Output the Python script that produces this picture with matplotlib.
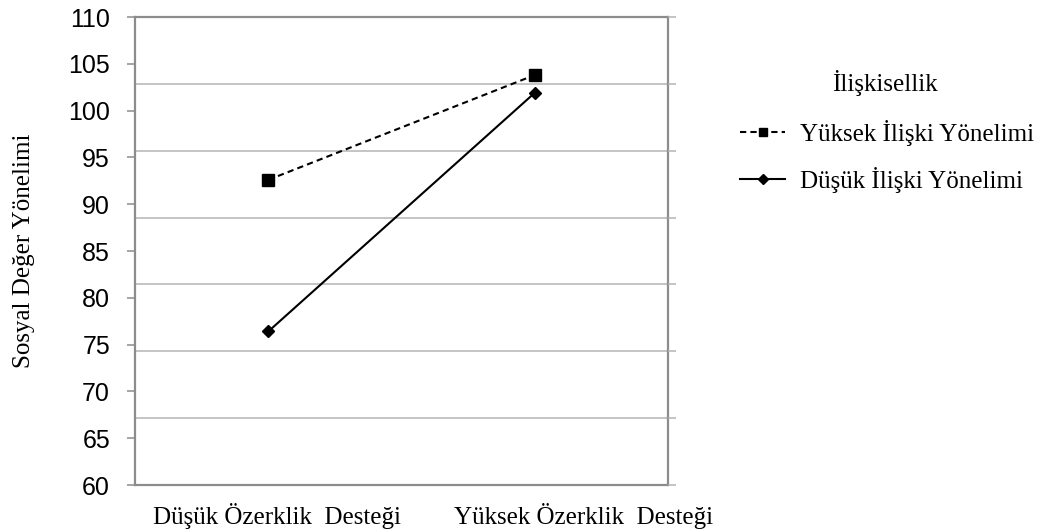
import matplotlib
matplotlib.use("Agg")
from matplotlib import pyplot as plt
from matplotlib.legend_handler import HandlerLine2D
from matplotlib.transforms import ScaledTranslation

# data
categories = ["Düşük Özerklik  Desteği", "Yüksek Özerklik  Desteği"]
series_names = ["Yüksek İlişki Yönelimi", "Düşük İlişki Yönelimi"]
yuksek_iliski = [92.6, 103.8]
dusuk_iliski = [76.4, 101.9]
y_ticks = [60, 65, 70, 75, 80, 85, 90, 95, 100, 105, 110]
grid_levels = [60 + k * 50 / 7 for k in range(8)]

serif = "Liberation Serif"
sans = "Liberation Sans"
spine_col = "#8c8c8c"
grid_col = "#b4b4b4"
fs = 18


class MarkerLeft(HandlerLine2D):
    # legend marker sits left of centre like the original
    def get_xdata(self, legend, xdescent, ydescent, width, height, fontsize):
        xdata, _ = super().get_xdata(legend, xdescent, ydescent,
                                     width, height, fontsize)
        return xdata, [xdata[0] + 0.32 * (xdata[-1] - xdata[0])]


fig = plt.figure(figsize=(10.41, 5.32), dpi=100)
ax = fig.add_axes([135 / 1041, 1 - 485 / 532, 533 / 1041, 468 / 532])

x = list(range(len(categories)))
ax.plot(x, yuksek_iliski, color="black", lw=1.5, ls=(0, (3.0, 2.0)),
        marker="s", ms=8.5, label=series_names[0], zorder=3)
ax.plot(x, dusuk_iliski, color="black", lw=1.5, ls="-",
        marker="D", ms=6, label=series_names[1], zorder=3)

ax.set_xlim(-0.5, 1.5)
ax.set_ylim(60, 110)

# right-hand ticks at the gridline levels
ax2 = ax.twinx()
ax2.set_ylim(60, 110)
ax2.set_yticks(grid_levels)
ax2.set_yticklabels([])
ax2.tick_params(axis="y", direction="out", length=6, width=1.1,
                color=grid_col)
for sp in ax2.spines.values():
    sp.set_visible(False)

ax.set_yticks(y_ticks)
ax.set_yticks(grid_levels[1:-1], minor=True)
ax.grid(which="minor", axis="y", color=grid_col, lw=1.1)
ax.set_axisbelow(True)
ax.tick_params(axis="y", which="minor", left=False, right=False)
ax.tick_params(axis="y", which="major", direction="out", length=6,
               width=1.1, color=spine_col, pad=12, labelsize=fs)
for lab in ax.get_yticklabels():
    lab.set_fontfamily(sans)

ax.set_xticks(x)
ax.set_xticklabels(categories, fontsize=fs, fontfamily=serif)
ax.tick_params(axis="x", length=0, pad=13)
for lab, dx in zip(ax.get_xticklabels(), [9, 49]):
    lab.set_transform(lab.get_transform() +
                      ScaledTranslation(dx / 100, 0, fig.dpi_scale_trans))

for sp in ax.spines.values():
    sp.set_color(spine_col)
    sp.set_linewidth(1.6)

ax.set_ylabel("Sosyal Değer Yönelimi", fontsize=fs, fontfamily=serif,
              labelpad=24)

handles, labels = ax.get_legend_handles_labels()
leg = fig.legend(handles, labels, loc="upper left",
                 bbox_to_anchor=(730 / 1041, 1 - 110 / 532),
                 borderaxespad=0, frameon=False,
                 prop={"family": serif, "size": fs},
                 handlelength=1.8, handletextpad=0.6, labelspacing=0.84,
                 handler_map={h: MarkerLeft(numpoints=1) for h in handles})
for h in leg.legend_handles:
    h.set_markersize(5.5)
fig.text(885 / 1041, 1 - 83 / 532, "İlişkisellik", fontsize=fs,
         fontfamily=serif, ha="center", va="center")

fig.savefig("out.png", dpi=100)
